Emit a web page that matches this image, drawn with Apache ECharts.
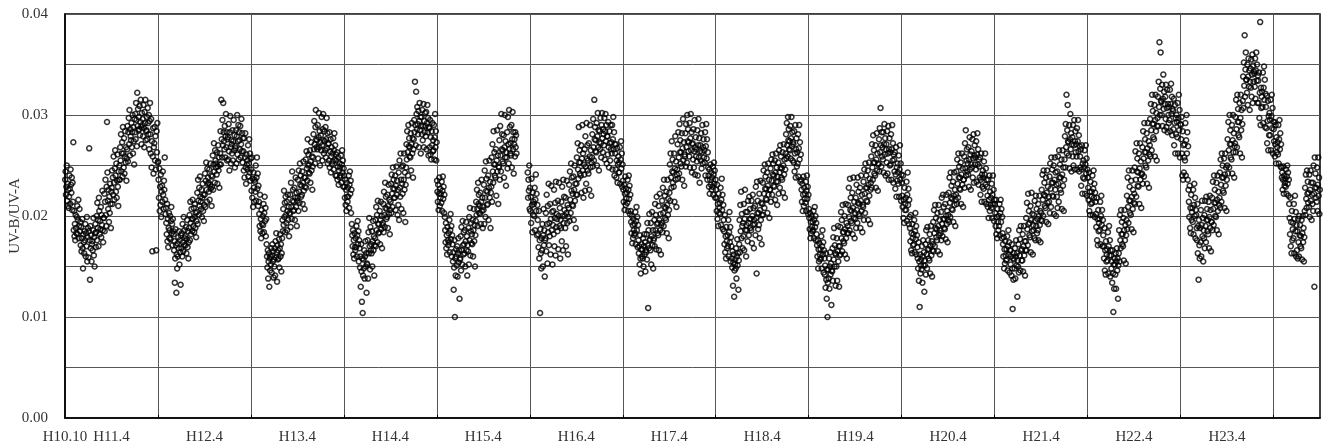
<!DOCTYPE html>
<html>
<head>
<meta charset="utf-8">
<script src="https://cdn.jsdelivr.net/npm/echarts@6/dist/echarts.min.js"></script>
<style>
  html, body { margin: 0; padding: 0; background: #fff; }
  #chart { width: 1325px; height: 448px; }
</style>
</head>
<body>
<div id="chart"></div>
<script>
// x: months counted from H10.10 (Oct 1998); one row = one month, 20 readings
// values are UV-B/UV-A ratios in units of 0.0001, null = no data
const xTickMonths = [0, 6, 18, 30, 42, 54, 66, 78, 90, 102, 114, 126, 138, 150];
const xTickLabels = ["H10.10", "H11.4", "H12.4", "H13.4", "H14.4", "H15.4", "H16.4",
  "H17.4", "H18.4", "H19.4", "H20.4", "H21.4", "H22.4", "H23.4"];
const yTickLabels = ["0.00", "0.01", "0.02", "0.03", "0.04"];

const fy10 = [ // H10.10 - H11.3
  236, 244, 221, 229, 250, 215, 232, 210, 226, 208, 219, 240, 227, 212, 246, 231, 223, 238, 206, 233,
  214, 273, 186, 205, 180, 192, 176, 201, 188, 183, 199, 210, 182, 196, 216, 178, 190, 207, 185, 194,
  171, 189, 165, 178, 197, 168, 148, 182, 174, 163, 185, 176, 192, 160, 183, 170, 199, 155, 179, 188,
  159, 185, 267, 176, 137, 190, 168, 181, 155, 172, 175, 166, 186, 198, 161, 179, 150, 183, 192, 169,
  184, 200, 176, 213, 188, 196, 170, 218, 205, 182, 195, 187, 209, 179, 201, 191, 225, 186, 174, 198,
  198, 222, 185, 214, 236, 201, 190, 229, 293, 243, 215, 207, 226, 194, 219, 203, 232, 212, 188, 224,
];
const fy11 = [
  228, 245, 212, 238, 221, 259, 233, 216, 247, 265, 240, 224, 252, 218, 235, 261, 229, 210, 244, 236,
  250, 236, 268, 255, 281, 244, 262, 273, 239, 288, 262, 248, 277, 242, 259, 284, 253, 268, 235, 257,
  266, 289, 254, 283, 297, 271, 305, 260, 286, 279, 275, 292, 268, 283, 300, 262, 288, 274, 251, 296,
  283, 301, 276, 312, 295, 269, 322, 289, 306, 285, 298, 286, 309, 280, 293, 315, 288, 271, 302, 290,
  296, 279, 310, 287, 268, 303, 292, 315, 275, 284, 285, 298, 276, 307, 292, 281, 300, 266, 294, 312,
  281, 262, 296, 248, 274, 165, 259, 287, 242, 268, 272, 288, 255, 279, 246, 166, 284, 263, 292, 253,
  254, 236, 218, 247, 205, 229, 211, 241, 199, 224, 230, 214, 244, 221, 207, 235, 226, 258, 216, 202,
  208, 193, 182, 212, 175, 197, 169, 188, 203, 178, 186, 200, 177, 195, 209, 183, 192, 171, 197, 185,
  182, 166, 175, 134, 158, 187, 171, 124, 162, 148, 173, 160, 179, 168, 185, 152, 176, 164, 132, 181,
  168, 183, 160, 192, 174, 165, 199, 171, 186, 178, 180, 171, 189, 163, 177, 196, 169, 185, 158, 174,
  188, 201, 176, 214, 193, 182, 207, 197, 185, 216, 197, 190, 208, 184, 199, 212, 188, 203, 179, 195,
  204, 223, 192, 236, 215, 201, 228, 210, 239, 219, 214, 207, 226, 199, 218, 232, 205, 221, 195, 211,
];
const fy12 = [
  221, 242, 209, 235, 253, 226, 214, 247, 232, 238, 233, 224, 246, 216, 231, 252, 227, 240, 210, 229,
  239, 260, 226, 251, 272, 244, 233, 265, 255, 248, 252, 241, 263, 232, 249, 270, 245, 258, 228, 251,
  262, 284, 251, 315, 276, 258, 295, 270, 312, 283, 274, 266, 289, 258, 279, 301, 268, 283, 255, 276,
  278, 256, 291, 264, 245, 283, 299, 268, 252, 275, 271, 262, 285, 255, 274, 295, 265, 280, 248, 269,
  267, 285, 252, 279, 300, 261, 274, 290, 256, 283, 275, 266, 289, 258, 271, 296, 264, 282, 253, 277,
  264, 245, 277, 238, 258, 282, 248, 232, 261, 251, 255, 246, 270, 239, 252, 276, 243, 262, 235, 257,
  246, 225, 258, 218, 237, 209, 243, 228, 214, 236, 234, 224, 250, 215, 238, 258, 227, 242, 210, 230,
  214, 202, 190, 221, 185, 197, 178, 206, 192, 183, 200, 191, 212, 184, 203, 219, 195, 208, 180, 197,
  172, 160, 149, 166, 138, 155, 163, 130, 158, 146, 160, 152, 168, 144, 161, 172, 155, 165, 139, 157,
  150, 168, 141, 175, 159, 183, 164, 135, 171, 157, 166, 158, 177, 149, 168, 182, 160, 172, 145, 163,
  178, 196, 185, 207, 191, 225, 199, 213, 184, 219, 201, 193, 214, 186, 205, 221, 196, 209, 180, 203,
  202, 221, 189, 233, 209, 197, 244, 215, 226, 205, 214, 206, 228, 196, 218, 238, 209, 223, 190, 215,
];
const fy13 = [
  218, 236, 205, 245, 224, 213, 252, 231, 240, 219, 230, 221, 244, 212, 233, 254, 225, 238, 207, 229,
  238, 256, 228, 264, 247, 235, 276, 250, 261, 243, 251, 242, 265, 233, 254, 273, 245, 259, 226, 249,
  258, 281, 266, 294, 271, 252, 288, 305, 276, 268, 275, 266, 290, 257, 278, 302, 268, 284, 250, 273,
  280, 265, 298, 270, 255, 286, 301, 275, 262, 284, 274, 265, 288, 258, 276, 297, 267, 282, 252, 271,
  272, 255, 283, 248, 264, 276, 243, 259, 268, 251, 262, 254, 277, 246, 265, 282, 256, 270, 240, 261,
  255, 240, 263, 236, 249, 258, 231, 245, 252, 238, 248, 240, 260, 233, 251, 265, 243, 255, 229, 247,
  240, 229, 218, 236, 211, 226, 205, 233, 219, 214, 228, 219, 240, 208, 231, 244, 222, 235, 203, 226,
  192, 181, 170, 186, 162, 176, 158, 183, 169, 166, 178, 169, 190, 160, 181, 195, 172, 185, 155, 176,
  168, 149, 160, 130, 172, 145, 115, 158, 104, 141, 157, 148, 166, 138, 160, 175, 150, 163, 124, 153,
  152, 176, 138, 184, 163, 198, 170, 147, 189, 166, 172, 163, 185, 150, 175, 195, 166, 180, 141, 171,
  178, 196, 170, 209, 186, 201, 174, 215, 192, 183, 192, 184, 205, 172, 196, 214, 187, 200, 168, 191,
  193, 212, 184, 224, 201, 189, 233, 208, 219, 197, 207, 199, 221, 188, 210, 231, 202, 216, 182, 206,
];
const fy14 = [
  214, 232, 203, 241, 222, 209, 248, 227, 236, 218, 227, 218, 240, 206, 230, 249, 221, 235, 201, 226,
  211, 243, 196, 255, 228, 219, 262, 236, 207, 249, 232, 222, 250, 203, 236, 262, 226, 243, 194, 231,
  248, 271, 256, 284, 263, 240, 290, 269, 277, 259, 268, 258, 282, 245, 271, 292, 262, 277, 238, 266,
  276, 295, 283, 333, 290, 270, 323, 301, 286, 308, 291, 281, 304, 268, 294, 312, 285, 298, 262, 289,
  298, 281, 305, 275, 289, 311, 268, 294, 283, 302, 289, 279, 303, 266, 292, 310, 283, 297, 260, 288,
  287, 268, 295, 261, 278, 256, 284, 270, 292, 264, 275, 265, 290, 256, 278, 301, 268, 284, 255, 273,
  235, 224, 214, 231, 206, 222, 238, 210, 227, 218, 222, 213, 234, 205, 225, 239, 217, 229, 203, 221,
  199, 186, 174, 193, 168, 181, 162, 189, 176, 171, 183, 174, 196, 164, 186, 202, 177, 190, 160, 181,
  172, 155, 164, 127, 149, 176, 100, 158, 141, 167, 160, 151, 170, 140, 163, 178, 154, 166, 118, 157,
  158, 180, 146, 189, 166, 152, 195, 171, 162, 184, 172, 163, 186, 150, 175, 194, 166, 180, 141, 171,
  165, 188, 152, 199, 176, 208, 161, 185, 193, 173, 182, 172, 196, 160, 186, 207, 175, 191, 150, 181,
  195, 214, 201, 226, 207, 190, 233, 212, 221, 203, 210, 202, 223, 192, 214, 236, 205, 218, 188, 209,
];
const fy15 = [
  206, 231, 192, 245, 218, 199, 254, 225, 237, 211, 224, 212, 240, 196, 228, 255, 218, 234, 188, 223,
  229, 258, 214, 271, 244, 233, 284, 251, 263, 240, 251, 238, 266, 220, 255, 285, 244, 260, 212, 249,
  248, 275, 236, 289, 260, 244, 301, 266, 281, 254, 265, 252, 280, 238, 268, 300, 258, 274, 230, 263,
  258, 283, 247, 298, 271, 252, 305, 266, 288, 262, 272, 260, 290, 248, 276, 303, 266, 283, 242, 271,
  276, 259, 283, 268, 280, 262, null, null, null, null, null, null, null, null, null, null, null, null, null, null,
  null, null, null, null, null, null, null, null, null, null, null, null, null, null, 243, 218, 236, 225, 250, 207,
  228, 205, 219, 193, 237, 211, 184, 223, 201, 214, 212, 200, 228, 186, 216, 241, 205, 222, 181, 211,
  196, 182, 169, 205, 158, 176, 104, 187, 163, 148, 178, 166, 192, 150, 181, 207, 171, 186, 140, 176,
  178, 203, 165, 221, 192, 153, 210, 184, 232, 171, 193, 180, 212, 162, 197, 230, 186, 204, 152, 191,
  205, 182, 226, 170, 198, 213, 161, 234, 189, 202, 197, 185, 215, 167, 200, 233, 190, 208, 158, 196,
  188, 214, 175, 229, 200, 166, 236, 193, 219, 206, 200, 188, 218, 170, 203, 235, 193, 211, 162, 199,
  208, 231, 195, 244, 216, 203, 252, 225, 238, 211, 222, 210, 239, 196, 226, 250, 215, 232, 188, 221,
];
const fy16 = [
  232, 258, 221, 272, 246, 237, 288, 253, 265, 242, 253, 240, 270, 223, 257, 290, 245, 262, 218, 251,
  241, 266, 225, 279, 249, 232, 292, 257, 270, 245, 255, 242, 272, 226, 259, 290, 248, 265, 220, 253,
  258, 281, 249, 296, 268, 255, 315, 276, 288, 264, 275, 263, 292, 250, 279, 302, 268, 285, 245, 273,
  284, 266, 297, 272, 258, 290, 302, 277, 263, 286, 281, 270, 297, 256, 284, 301, 274, 290, 252, 279,
  279, 261, 293, 268, 248, 284, 272, 255, 290, 266, 273, 262, 290, 246, 276, 298, 266, 283, 240, 271,
  262, 246, 271, 238, 255, 267, 233, 251, 259, 243, 253, 243, 268, 232, 256, 274, 247, 262, 229, 251,
  235, 226, 214, 231, 206, 222, 239, 211, 227, 217, 223, 213, 236, 205, 226, 240, 217, 230, 202, 221,
  205, 194, 183, 200, 173, 191, 178, 197, 186, 181, 192, 183, 204, 172, 195, 209, 186, 199, 169, 191,
  176, 163, 170, 152, 181, 158, 143, 167, 172, 160, 167, 158, 178, 150, 170, 182, 162, 174, 145, 166,
  164, 182, 157, 193, 171, 109, 186, 168, 202, 176, 177, 166, 193, 152, 180, 204, 171, 186, 148, 176,
  178, 196, 170, 212, 186, 201, 167, 219, 192, 183, 193, 181, 210, 166, 196, 222, 186, 202, 162, 191,
  193, 215, 184, 228, 203, 190, 236, 209, 220, 198, 208, 196, 224, 183, 211, 236, 201, 217, 178, 206,
];
const fy17 = [
  223, 251, 215, 262, 238, 228, 274, 244, 256, 233, 243, 229, 262, 214, 247, 279, 236, 254, 209, 241,
  246, 271, 237, 283, 258, 242, 291, 263, 275, 252, 263, 249, 282, 236, 267, 296, 255, 273, 230, 261,
  259, 282, 249, 291, 268, 253, 300, 274, 286, 264, 273, 259, 292, 248, 277, 301, 265, 283, 243, 271,
  272, 256, 286, 248, 264, 295, 241, 268, 278, 259, 266, 254, 285, 240, 270, 296, 258, 277, 233, 264,
  270, 255, 282, 247, 263, 290, 252, 268, 276, 258, 265, 253, 283, 240, 269, 291, 257, 276, 236, 263,
  248, 240, 229, 246, 222, 236, 251, 231, 243, 226, 238, 229, 249, 221, 241, 253, 232, 245, 218, 236,
  226, 218, 205, 231, 197, 212, 190, 222, 203, 208, 213, 202, 228, 191, 216, 237, 206, 221, 187, 211,
  196, 185, 172, 201, 164, 180, 158, 189, 175, 168, 181, 170, 196, 160, 184, 204, 174, 189, 155, 179,
  170, 158, 149, 165, 131, 154, 162, 120, 146, 152, 157, 148, 168, 138, 160, 177, 151, 163, 127, 156,
  172, 196, 164, 211, 185, 224, 178, 202, 190, 168, 193, 180, 212, 166, 197, 226, 186, 204, 160, 191,
  186, 204, 175, 215, 193, 181, 219, 197, 207, 188, 197, 186, 215, 173, 200, 221, 191, 208, 168, 196,
  192, 210, 181, 229, 198, 143, 234, 203, 215, 187, 203, 191, 222, 178, 206, 235, 196, 213, 172, 201,
];
const fy18 = [
  212, 233, 201, 245, 222, 208, 251, 227, 239, 217, 227, 216, 243, 203, 230, 252, 221, 236, 198, 226,
  226, 247, 214, 256, 235, 221, 261, 241, 252, 230, 240, 229, 255, 216, 243, 262, 234, 248, 211, 239,
  234, 253, 222, 265, 243, 228, 270, 248, 259, 238, 247, 236, 263, 223, 250, 271, 241, 256, 218, 246,
  262, 281, 257, 292, 270, 259, 298, 275, 286, 266, 274, 265, 289, 257, 277, 298, 269, 283, 255, 273,
  271, 253, 284, 244, 262, 290, 238, 266, 277, 249, 263, 252, 281, 239, 267, 290, 256, 273, 234, 261,
  236, 226, 214, 232, 205, 221, 239, 210, 228, 217, 222, 213, 234, 205, 225, 240, 217, 229, 202, 221,
  207, 198, 187, 203, 178, 194, 183, 200, 189, 185, 194, 186, 205, 178, 196, 209, 189, 200, 176, 193,
  182, 171, 160, 176, 148, 167, 155, 173, 162, 157, 167, 158, 180, 148, 170, 186, 162, 174, 144, 166,
  158, 142, 151, 129, 163, 137, 118, 147, 100, 134, 147, 138, 158, 128, 150, 164, 142, 153, 112, 146,
  145, 168, 136, 179, 157, 188, 150, 171, 163, 131, 162, 150, 178, 136, 165, 190, 155, 170, 130, 161,
  170, 189, 162, 204, 178, 196, 165, 211, 184, 175, 184, 173, 200, 162, 187, 212, 178, 193, 158, 183,
  190, 211, 183, 228, 199, 186, 237, 206, 218, 195, 205, 193, 223, 182, 208, 238, 198, 214, 178, 203,
];
const fy19 = [
  197, 218, 188, 231, 206, 193, 238, 213, 224, 202, 212, 200, 228, 188, 215, 240, 205, 221, 184, 211,
  209, 234, 196, 246, 222, 203, 252, 228, 240, 215, 228, 214, 245, 196, 231, 253, 220, 237, 192, 226,
  233, 259, 228, 271, 248, 236, 280, 253, 265, 242, 253, 240, 270, 228, 256, 282, 245, 262, 225, 251,
  252, 276, 244, 287, 263, 307, 270, 249, 283, 259, 268, 256, 283, 243, 271, 291, 261, 277, 240, 266,
  271, 253, 284, 242, 262, 289, 236, 266, 277, 250, 263, 251, 281, 236, 266, 290, 255, 272, 233, 261,
  256, 244, 263, 227, 241, 268, 219, 248, 235, 252, 243, 232, 260, 219, 246, 270, 236, 252, 215, 241,
  233, 220, 209, 240, 198, 216, 193, 228, 206, 212, 218, 206, 234, 195, 221, 243, 211, 227, 192, 216,
  199, 188, 175, 201, 166, 183, 163, 192, 178, 171, 182, 172, 196, 164, 185, 203, 177, 190, 162, 181,
  169, 158, 148, 174, 136, 155, 110, 162, 143, 151, 157, 147, 170, 134, 160, 176, 151, 164, 125, 156,
  151, 172, 142, 186, 162, 148, 189, 167, 176, 158, 167, 156, 182, 143, 170, 190, 161, 175, 140, 166,
  172, 194, 165, 206, 183, 170, 211, 188, 198, 179, 187, 176, 203, 165, 190, 211, 181, 196, 162, 186,
  183, 204, 176, 218, 192, 180, 221, 197, 209, 188, 197, 187, 212, 177, 200, 221, 192, 205, 174, 196,
];
const fy20 = [
  201, 223, 194, 238, 213, 199, 243, 218, 230, 207, 217, 206, 234, 194, 220, 243, 211, 226, 190, 216,
  221, 244, 212, 256, 232, 218, 262, 238, 249, 227, 238, 226, 253, 212, 241, 262, 231, 247, 209, 236,
  236, 259, 228, 272, 247, 285, 240, 255, 266, 244, 252, 241, 268, 229, 256, 278, 246, 261, 226, 251,
  264, 248, 276, 238, 257, 281, 233, 260, 270, 251, 258, 246, 274, 234, 261, 282, 251, 266, 231, 256,
  249, 238, 258, 221, 236, 262, 214, 241, 229, 245, 238, 227, 254, 214, 241, 262, 231, 247, 212, 236,
  229, 220, 209, 236, 198, 216, 240, 205, 224, 211, 218, 208, 232, 198, 221, 240, 212, 226, 195, 216,
  212, 203, 190, 216, 182, 199, 178, 207, 194, 186, 200, 190, 212, 181, 203, 216, 194, 207, 178, 199,
  183, 172, 160, 179, 148, 167, 153, 175, 161, 156, 167, 157, 180, 146, 170, 186, 162, 174, 144, 166,
  166, 152, 160, 141, 172, 148, 108, 158, 137, 163, 157, 148, 168, 138, 160, 176, 151, 163, 120, 156,
  150, 172, 144, 186, 161, 177, 146, 190, 166, 156, 167, 156, 182, 145, 170, 190, 161, 175, 141, 166,
  175, 198, 166, 213, 187, 171, 222, 192, 205, 181, 193, 179, 210, 164, 196, 223, 185, 202, 162, 191,
  186, 201, 178, 215, 195, 176, 220, 190, 207, 183, 197, 186, 212, 176, 200, 220, 191, 205, 174, 196,
];
const fy21 = [
  203, 226, 195, 241, 216, 200, 245, 221, 233, 210, 220, 208, 238, 194, 223, 245, 213, 229, 192, 219,
  214, 239, 203, 252, 227, 209, 258, 233, 246, 220, 233, 219, 250, 202, 236, 258, 226, 243, 200, 231,
  219, 244, 208, 259, 232, 214, 265, 238, 251, 226, 238, 223, 256, 207, 241, 265, 230, 248, 205, 236,
  256, 279, 248, 291, 268, 320, 262, 285, 310, 274, 273, 260, 290, 247, 276, 301, 266, 282, 244, 271,
  278, 259, 290, 250, 270, 295, 246, 274, 284, 263, 271, 259, 287, 246, 274, 295, 264, 280, 244, 269,
  259, 248, 266, 230, 246, 270, 222, 252, 238, 255, 248, 237, 265, 222, 251, 270, 242, 257, 220, 246,
  238, 228, 216, 243, 205, 224, 201, 234, 212, 219, 224, 213, 240, 201, 227, 245, 218, 232, 199, 223,
  214, 202, 189, 218, 176, 197, 171, 206, 185, 193, 197, 186, 214, 172, 200, 220, 191, 206, 170, 196,
  181, 170, 158, 188, 146, 166, 142, 175, 155, 162, 167, 156, 184, 143, 170, 190, 161, 176, 140, 166,
  161, 148, 155, 134, 166, 143, 105, 152, 128, 158, 152, 142, 163, 128, 155, 168, 146, 158, 118, 151,
  163, 186, 155, 201, 176, 168, 206, 182, 194, 172, 182, 170, 198, 156, 186, 206, 176, 191, 153, 181,
  196, 220, 187, 238, 209, 193, 245, 215, 229, 203, 215, 201, 235, 187, 219, 245, 207, 226, 184, 213,
];
const fy22 = [
  222, 248, 212, 264, 236, 219, 272, 244, 257, 230, 243, 229, 262, 212, 247, 272, 236, 254, 208, 241,
  242, 268, 232, 284, 257, 239, 292, 263, 276, 250, 263, 248, 282, 232, 267, 292, 255, 274, 228, 261,
  270, 296, 259, 311, 285, 265, 320, 291, 304, 278, 291, 276, 310, 259, 295, 320, 284, 302, 255, 289,
  297, 318, 289, 333, 308, 372, 300, 326, 362, 314, 313, 300, 330, 289, 316, 340, 306, 323, 285, 311,
  318, 296, 330, 288, 307, 325, 283, 311, 300, 292, 308, 295, 325, 284, 311, 331, 301, 318, 280, 306,
  304, 286, 316, 270, 292, 310, 262, 297, 281, 300, 293, 278, 312, 262, 297, 320, 285, 305, 258, 291,
  290, 276, 298, 262, 240, 284, 236, 270, 243, 258, 271, 255, 292, 240, 275, 300, 262, 283, 236, 269,
  226, 214, 199, 230, 188, 208, 183, 221, 196, 204, 208, 194, 226, 182, 211, 232, 200, 218, 178, 206,
  201, 188, 176, 212, 163, 190, 137, 196, 171, 158, 188, 174, 206, 160, 191, 215, 180, 198, 155, 186,
  178, 201, 168, 215, 190, 174, 219, 196, 207, 185, 196, 182, 214, 168, 199, 220, 188, 206, 165, 194,
  194, 218, 186, 234, 207, 191, 240, 213, 226, 200, 213, 199, 233, 186, 216, 240, 205, 224, 182, 211,
  218, 243, 208, 256, 231, 214, 262, 238, 250, 225, 238, 223, 257, 208, 241, 262, 230, 248, 205, 236,
];
const fy23 = [
  250, 276, 242, 293, 265, 248, 300, 271, 285, 258, 271, 256, 290, 242, 275, 300, 263, 282, 238, 269,
  272, 298, 263, 315, 286, 268, 320, 293, 306, 280, 293, 278, 312, 262, 297, 320, 285, 305, 258, 291,
  314, 338, 307, 352, 329, 379, 318, 345, 362, 335, 335, 322, 350, 310, 338, 356, 328, 344, 305, 333,
  346, 327, 355, 318, 340, 360, 312, 349, 333, 343, 341, 328, 356, 316, 344, 362, 334, 350, 312, 339,
  334, 312, 342, 297, 322, 392, 290, 327, 307, 318, 323, 308, 342, 292, 327, 348, 315, 335, 288, 321,
  308, 287, 319, 272, 294, 314, 265, 299, 280, 302, 295, 280, 315, 265, 299, 320, 287, 307, 262, 293,
  286, 274, 293, 259, 271, 290, 252, 278, 263, 268, 273, 261, 290, 252, 276, 295, 266, 282, 249, 271,
  248, 238, 243, 226, 236, 249, 222, 240, 230, 233, 237, 229, 246, 222, 239, 250, 232, 243, 220, 236,
  212, 198, 182, 218, 170, 194, 163, 205, 176, 187, 193, 178, 212, 163, 197, 220, 185, 204, 160, 191,
  166, 185, 158, 197, 174, 160, 200, 181, 191, 170, 180, 168, 196, 157, 183, 200, 174, 188, 155, 179,
  205, 228, 201, 241, 217, 208, 245, 222, 234, 213, 223, 209, 241, 199, 226, 245, 215, 233, 196, 221,
  212, 233, 205, 250, 222, 130, 258, 228, 242, 218, 228, 214, 248, 205, 231, 258, 220, 238, 202, 226,
];

// first month of each block, counted from H10.10
const blocks = [
  [0, fy10], [6, fy11], [18, fy12], [30, fy13], [42, fy14], [54, fy15], [66, fy16],
  [78, fy17], [90, fy18], [102, fy19], [114, fy20], [126, fy21], [138, fy22], [150, fy23],
];
const perMonth = 20;

const points = [];
blocks.forEach(([start, vals]) => {
  vals.forEach((v, k) => {
    if (v === null) return;
    points.push([start + (k + 0.5) / perMonth, v / 10000]);
  });
});

const serif = "'Liberation Serif', 'DejaVu Serif', serif";
const chart = echarts.init(document.getElementById("chart"));
chart.setOption({
  animation: false,
  grid: {
    left: 65, right: 5, top: 14, bottom: 30,
    outerBoundsMode: "none",
    show: true, borderColor: "#000", borderWidth: 1.5,
  },
  xAxis: {
    type: "value",
    min: 0,
    max: 162,
    interval: 6,
    axisLine: { lineStyle: { color: "#000", width: 1.5 } },
    axisTick: {
      inside: true, length: 3,
      customValues: [12, 24, 36, 48, 60, 72, 84, 96, 108, 120, 132, 144, 156],
      lineStyle: { color: "#000" },
    },
    axisLabel: {
      customValues: xTickMonths,
      formatter: (v) => xTickLabels[xTickMonths.indexOf(Math.round(v))] || "",
      fontFamily: serif, fontSize: 15, color: "#333", margin: 12,
    },
    splitLine: { show: true, lineStyle: { color: "#555", width: 1 } },
  },
  yAxis: {
    type: "value",
    min: 0,
    max: 0.04,
    interval: 0.005,
    name: "UV-B/UV-A",
    nameLocation: "middle",
    nameGap: 42,
    nameMoveOverlap: false,
    nameTextStyle: { fontFamily: serif, fontSize: 15, color: "#333" },
    axisLine: { show: true, lineStyle: { color: "#000", width: 1.5 } },
    axisTick: { show: false },
    axisLabel: {
      customValues: [0, 0.01, 0.02, 0.03, 0.04],
      formatter: (v) => yTickLabels[Math.round(v * 100)] || "",
      fontFamily: serif, fontSize: 15, color: "#333", margin: 17,
    },
    splitLine: { show: true, lineStyle: { color: "#555", width: 1 } },
  },
  series: [
    {
      type: "scatter",
      symbol: "circle",
      symbolSize: 5,
      itemStyle: { color: "rgba(0,0,0,0)", borderColor: "#000", borderWidth: 1.5 },
      data: points,
    },
  ],
});
</script>
</body>
</html>
